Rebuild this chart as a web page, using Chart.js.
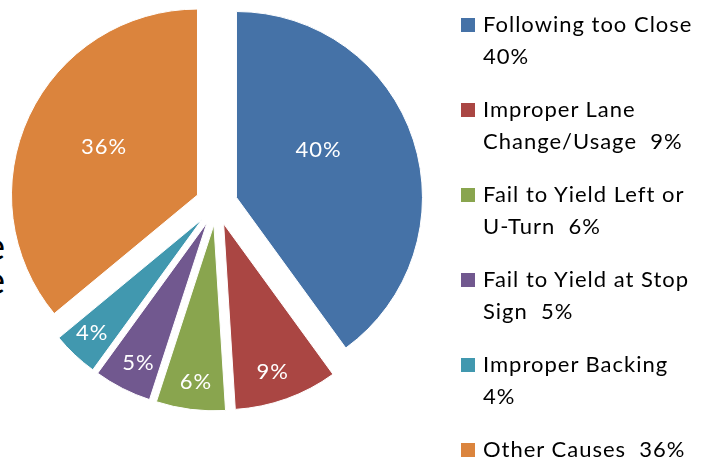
<!DOCTYPE html>
<html>
<head>
<meta charset="utf-8">
<script src="https://cdn.jsdelivr.net/npm/chart.js@4.4.1/dist/chart.umd.min.js"></script>
<style>
  html, body { margin: 0; padding: 0; background: #fff; }
  #wrap { position: relative; width: 708px; height: 461px; overflow: hidden; }
  #chart { position: absolute; left: 0; top: 0; }
  #legend { position: absolute; left: 0; top: 0; font-family: Lato, sans-serif; font-size: 22px; letter-spacing: 1px; line-height: 32px; color: #000; }
  .item { position: absolute; left: 483px; white-space: pre; }
  .swatch { position: absolute; left: -22px; top: 10px; width: 14px; height: 14px; }
  #edge { position: absolute; left: -15px; top: 228px; font-family: Lato, sans-serif; font-size: 38px; line-height: 34px; color: #000; }
</style>
</head>
<body>
<div id="wrap">
  <div id="edge">e<br>e</div>
  <canvas id="chart" width="708" height="461"></canvas>
  <div id="legend"></div>
</div>
<script>
// crash causes, share of total (%)
const categories = [
  ["Following too Close", "40%"],
  ["Improper Lane", "Change/Usage  9%"],
  ["Fail to Yield Left or", "U-Turn  6%"],
  ["Fail to Yield at Stop", "Sign  5%"],
  ["Improper Backing", "4%"],
  ["Other Causes  36%"],
];
const shares = [40, 9, 6, 5, 4, 36];
const sliceLabels = ["40%", "9%", "6%", "5%", "4%", "36%"];
const colors = ["#4572A7", "#AA4643", "#89A54E", "#71588F", "#4198AF", "#DB843D"];

// where each percentage sits inside its slice (fraction of radius, angle nudge in degrees)
const LABEL_R = [0.51, 0.84, 0.85, 0.84, 0.85, 0.565];
const LABEL_NUDGE = [-12, 1.5, -0.7, -1, 0.8, 2];
const EXPLODE = 21; // px every slice is pulled out

// Built-in `offset` also grows small slices, so pull arcs out by hand
// (same distance for every slice, radius untouched).
const baseArcDraw = Chart.ArcElement.prototype.draw;
Chart.ArcElement.prototype.draw = function (ctx) {
  const mid = (this.startAngle + this.endAngle) / 2;
  ctx.save();
  ctx.translate(Math.cos(mid) * EXPLODE, Math.sin(mid) * EXPLODE);
  baseArcDraw.call(this, ctx);
  ctx.restore();
};

const sliceText = {
  id: "sliceText",
  afterDatasetsDraw(chart) {
    const ctx = chart.ctx;
    const meta = chart.getDatasetMeta(0);
    ctx.save();
    ctx.fillStyle = "#fff";
    ctx.font = "22px Lato, sans-serif";
    ctx.letterSpacing = "1px";
    ctx.textAlign = "center";
    ctx.textBaseline = "middle";
    meta.data.forEach((arc, i) => {
      const p = arc.getProps(["x", "y", "startAngle", "endAngle", "outerRadius"], true);
      const mid = (p.startAngle + p.endAngle) / 2;
      const ox = p.x + Math.cos(mid) * EXPLODE;
      const oy = p.y + Math.sin(mid) * EXPLODE;
      const a = mid + LABEL_NUDGE[i] * Math.PI / 180;
      const r = p.outerRadius * LABEL_R[i];
      ctx.fillText(sliceLabels[i], ox + Math.cos(a) * r, oy + Math.sin(a) * r);
    });
    ctx.restore();
  }
};

new Chart(document.getElementById("chart"), {
  type: "pie",
  data: {
    labels: categories,
    datasets: [{
      data: shares,
      backgroundColor: colors,
      borderColor: "#fff",
      borderWidth: 1,
      radius: 186,
    }],
  },
  options: {
    responsive: false,
    animation: false,
    layout: { padding: { left: 0, top: 0, right: 275, bottom: 53 } },
    plugins: { legend: { display: false }, tooltip: { enabled: false } },
  },
  plugins: [sliceText],
});

// legend, one block per category
const legend = document.getElementById("legend");
categories.forEach((lines, i) => {
  const item = document.createElement("div");
  item.className = "item";
  item.style.top = (8 + i * 85) + "px";
  item.innerHTML = `<span class="swatch" style="background:${colors[i]}"></span>` + lines.join("\n");
  legend.appendChild(item);
});
</script>
</body>
</html>
